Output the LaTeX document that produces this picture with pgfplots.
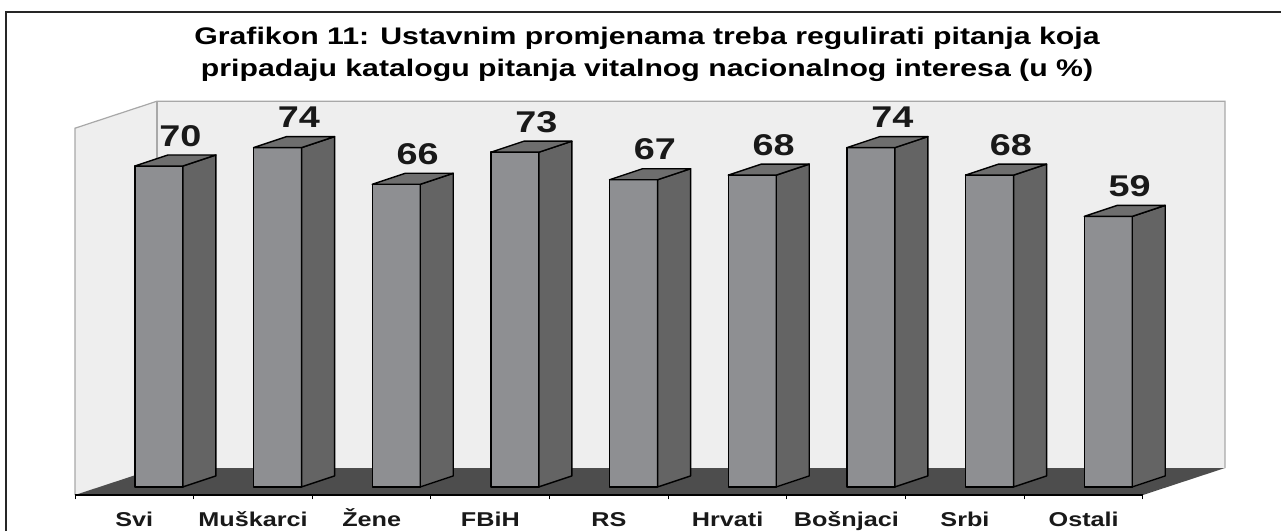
\documentclass[border=0pt]{standalone}
\usepackage{pgfplots}
\pgfplotsset{compat=1.18}
\usepackage{pgfplotstable}
\usepackage{fontspec}
\setmainfont{Liberation Sans}
\newfontfamily\st{Liberation Sans}[FakeStretch=1.26]
\definecolor{wallc}{HTML}{EEEEEE}
\definecolor{walle}{HTML}{A8A8A8}
\definecolor{floorc}{HTML}{4D4D4D}
\definecolor{barf}{HTML}{8E8F92}
\definecolor{bars}{HTML}{646464}
\definecolor{bart}{HTML}{6E6E6E}
\pgfplotstableread{
x val
0 70
1 74
2 66
3 73
4 67
5 68
6 74
7 68
8 59
}\datatable
\begin{document}
\begin{tikzpicture}
\path[use as bounding box] (0,0) rectangle (640.5pt,265.5pt);
\draw[line width=0.6pt, black!85] (3pt,0) -- (3pt,259.5pt) -- (640.5pt,259.5pt);
\node[anchor=base, inner sep=0pt, font=\st\bfseries\fontsize{12}{14}\selectfont] at (323.5pt,243pt) {Grafikon 11: Ustavnim promjenama treba regulirati pitanja koja};
\node[anchor=base, inner sep=0pt, font=\st\bfseries\fontsize{12}{14}\selectfont] at (323.5pt,227pt) {pripadaju katalogu pitanja vitalnog nacionalnog interesa (u \%)};
\begin{axis}[
  at={(37.5pt,18pt)}, anchor=south west,
  width=534pt, height=183.4pt, scale only axis,
  xmin=-0.5, xmax=8.5, ymin=0, ymax=80,
  axis x line*=bottom, axis y line=none,
  axis on top,
  clip=false,
  xtick={0,...,8},
  xticklabels={Svi, Muškarci, Žene, FBiH, RS, Hrvati, Bošnjaci, Srbi, Ostali},
  major tick length=0pt,
  minor xtick={-0.5,0.5,...,8.5},
  minor tick length=2.2pt,
  tick align=outside,
  every tick/.style={black, line width=0.5pt},
  xticklabel style={font=\st\bfseries\fontsize{10}{12}\selectfont, anchor=base, yshift=-15.5pt, text=black!90},
  x axis line style={line width=0.6pt, black},
]
% side wall
\fill[wallc] (axis cs:-0.5,0) -- (axis cs:-0.5,80) -- ([shift={(41pt,13.5pt)}]axis cs:-0.5,80) -- ([shift={(41pt,13.5pt)}]axis cs:-0.5,0) -- cycle;
% back wall
\fill[wallc] ([shift={(41pt,13.5pt)}]axis cs:-0.5,0) rectangle ([shift={(41pt,13.5pt)}]axis cs:8.5,80);
\draw[walle, line width=0.6pt] (axis cs:-0.5,0) -- (axis cs:-0.5,80) -- ([shift={(41pt,13.5pt)}]axis cs:-0.5,80) -- ([shift={(41pt,13.5pt)}]axis cs:8.5,80) -- ([shift={(41pt,13.5pt)}]axis cs:8.5,0);
\draw[walle, line width=0.6pt] ([shift={(41pt,13.5pt)}]axis cs:-0.5,80) -- ([shift={(41pt,13.5pt)}]axis cs:-0.5,0);
% floor
\fill[floorc] (axis cs:-0.5,0) -- (axis cs:8.5,0) -- ([shift={(41pt,13.5pt)}]axis cs:8.5,0) -- ([shift={(41pt,13.5pt)}]axis cs:-0.5,0) -- cycle;
% bars (3D prisms drawn from the data points)
\addplot[
  scatter, only marks, mark=*, mark size=0pt,
  point meta=y,
  visualization depends on={rawy \as \val},
  scatter/@pre marker code/.code={%
    \pgfmathsetlengthmacro\yb{4.05pt-\val*2.2925pt}%
    \pgfmathsetlengthmacro\yc{9.55pt-\val*2.2925pt}%
    \filldraw[fill=barf, draw=black, line width=0.7pt, line join=round] (0.3pt,\yb) rectangle (24.3pt,4.05pt);
    \filldraw[fill=bars, draw=black, line width=0.7pt, line join=round] (24.3pt,\yb) -- (40.8pt,\yc) -- (40.8pt,9.55pt) -- (24.3pt,4.05pt) -- cycle;
    \filldraw[fill=bart, draw=black, line width=0.7pt, line join=round] (0.3pt,4.05pt) -- (16.8pt,9.55pt) -- (40.8pt,9.55pt) -- (24.3pt,4.05pt) -- cycle;
  },
  scatter/@post marker code/.code={},
] table[x=x, y=val] {\datatable};
% value labels
\addplot[
  draw=none, mark=none,
  point meta=explicit,
  nodes near coords={\st\bfseries\fontsize{15}{17}\selectfont\pgfmathprintnumber[assume math mode=true]{\pgfplotspointmeta}},
  every node near coord/.append style={anchor=base, xshift=23pt, yshift=14pt, text=black!90},
] table[x=x, y=val, meta=val] {\datatable};
\end{axis}
\end{tikzpicture}
\end{document}
